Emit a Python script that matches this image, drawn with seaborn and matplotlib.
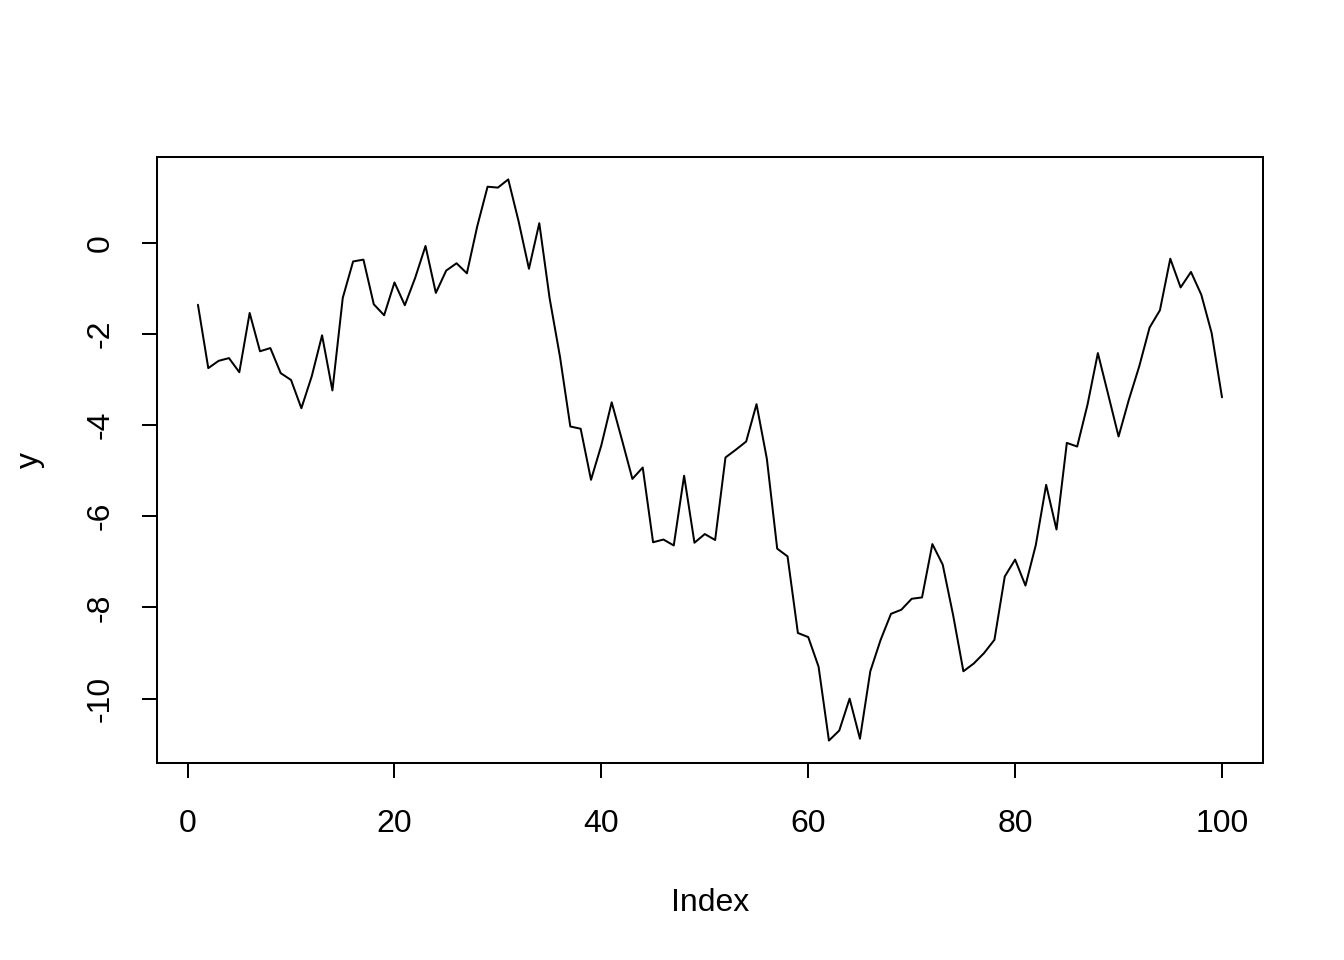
import seaborn as sns
import matplotlib.pyplot as plt
import pandas as pd
import numpy as np

############################################################### Data

index = list(range(1, 101))
y = [-1.36, -2.75, -2.59, -2.53, -2.84, -1.54, -2.38, -2.31, -2.86, -3.01,
     -3.63, -2.93, -2.03, -3.24, -1.21, -0.41, -0.37, -1.35, -1.59, -0.87,
     -1.37, -0.77, -0.07, -1.10, -0.61, -0.45, -0.67, 0.36, 1.23, 1.21,
     1.39, 0.47, -0.57, 0.43, -1.22, -2.50, -4.03, -4.08, -5.20, -4.44,
     -3.50, -4.33, -5.18, -4.93, -6.57, -6.51, -6.64, -5.11, -6.58, -6.39,
     -6.52, -4.71, -4.54, -4.36, -3.54, -4.74, -6.71, -6.88, -8.56, -8.65,
     -9.30, -10.92, -10.70, -10.00, -10.88, -9.40, -8.71, -8.14, -8.05, -7.81,
     -7.78, -6.61, -7.06, -8.16, -9.40, -9.23, -9.00, -8.71, -7.32, -6.95,
     -7.52, -6.63, -5.31, -6.29, -4.39, -4.47, -3.55, -2.42, -3.33, -4.25,
     -3.44, -2.71, -1.86, -1.48, -0.35, -0.98, -0.64, -1.14, -1.98, -3.39]

x_ticks = [0, 20, 40, 60, 80, 100]
y_ticks = [-10, -8, -6, -4, -2, 0]

df = pd.DataFrame({"Index": index, "y": y})

############################################################### Plot

sns.set_style("ticks")
plt.rcParams['font.family'] = ['Liberation Sans', 'DejaVu Sans']

fig = plt.figure(figsize=(7, 5), dpi=192)
ax = fig.add_axes([0.1168, 0.2052, 0.9397 - 0.1168, 0.8365 - 0.2052])

sns.lineplot(data=df, x="Index", y="y", color="black", linewidth=0.75, ax=ax)

# R style 4% padding around the data range
def padded(lo, hi):
    d = (hi - lo) * 0.04
    return lo - d, hi + d

ax.set_xlim(*padded(min(index), max(index)))
ax.set_ylim(*padded(min(y), max(y)))

ax.set_xticks(x_ticks)
ax.set_yticks(y_ticks)
ax.set_xticklabels([str(t) for t in x_ticks])
ax.set_yticklabels([str(t) for t in y_ticks], rotation=90, va="center")

ax.tick_params(axis="both", direction="out", length=5.6, width=0.75,
               labelsize=12, color="black", labelcolor="black")
ax.tick_params(axis="x", pad=11.5)
ax.tick_params(axis="y", pad=10)

for s in ax.spines.values():
    s.set_visible(True)
    s.set_linewidth(0.75)
    s.set_color("black")

ax.set_xlabel("Index", fontsize=12, labelpad=18.5, color="black")
ax.set_ylabel("y", fontsize=12, labelpad=15, color="black")

fig.savefig("out.png", dpi=192, facecolor="white")
